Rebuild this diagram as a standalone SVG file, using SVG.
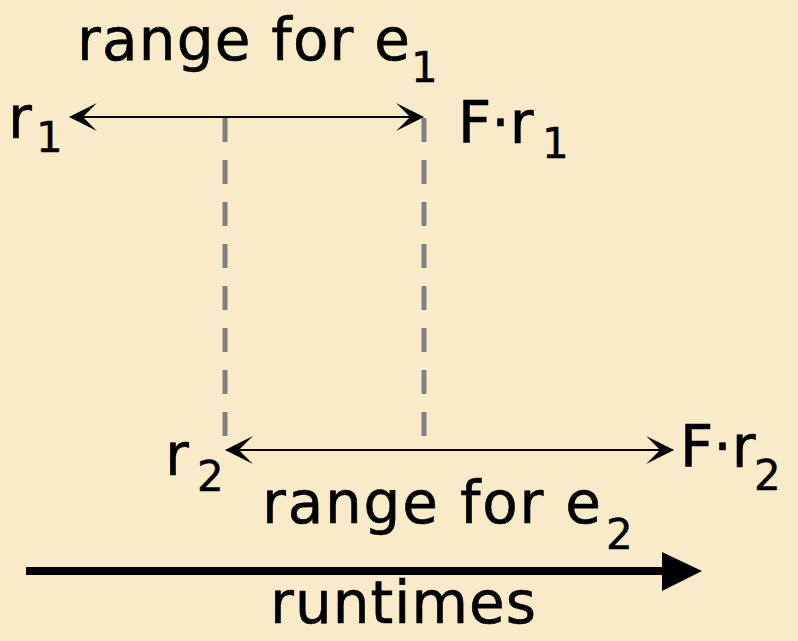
<svg xmlns="http://www.w3.org/2000/svg" width="798" height="641" viewBox="0 0 798 641">
<style>
.t{font-family:"DejaVu Sans","Open Sans",sans-serif;font-size:58px;fill:#000;stroke:#000;stroke-width:0.6}
.s{font-family:"DejaVu Sans","Open Sans",sans-serif;font-size:42px;fill:#000;stroke:#000;stroke-width:0.5}
.thin{stroke:#000;stroke-width:2;fill:none}
.dash{stroke:#808080;stroke-width:5;stroke-dasharray:24 18;fill:none}
</style>
<defs>
<marker id="ah" markerUnits="userSpaceOnUse" markerWidth="28" markerHeight="28" viewBox="0 0 26 26" refX="25" refY="13" orient="auto-start-reverse">
<path d="M26,13 L0,0 L13,13 L0,26 Z" fill="#000"/>
</marker>
</defs>
<rect x="0" y="0" width="798" height="641" fill="#F9EBCA"/>
<g id="connectors">
<line class="dash" x1="225" y1="118" x2="225" y2="436"/>
<line class="dash" x1="424" y1="118" x2="424" y2="436"/>
<line class="thin" x1="70" y1="117" x2="423" y2="117" marker-start="url(#ah)" marker-end="url(#ah)"/>
<line class="thin" x1="226" y1="450" x2="673" y2="450" marker-start="url(#ah)" marker-end="url(#ah)"/>
<g id="runtime-axis">
<rect x="26" y="567" width="638" height="8" fill="#000"/>
<polygon points="662,552 702,571 662,591" fill="#000"/>
</g>
</g>
<g id="label-e1">
<text class="t" x="77" y="60" textLength="333" lengthAdjust="spacing">range for e</text>
<text class="s" x="411" y="82">1</text>
</g>
<g id="r1">
<text class="t" x="8" y="138">r</text>
<text class="s" x="36" y="152">1</text>
</g>
<g id="Fr1">
<text class="t" x="458" y="143">F·r</text>
<text class="s" x="542" y="158">1</text>
</g>
<g id="r2">
<text class="t" x="165" y="475">r</text>
<text class="s" x="197" y="491">2</text>
</g>
<g id="Fr2">
<text class="t" x="680" y="467">F·r</text>
<text class="s" x="754" y="490">2</text>
</g>
<g id="label-e2">
<text class="t" x="262" y="523" textLength="339" lengthAdjust="spacing">range for e</text>
<text class="s" x="606" y="549">2</text>
</g>
<g id="runtimes">
<text class="t" x="270" y="623" textLength="266" lengthAdjust="spacing">runtimes</text>
</g>
</svg>
